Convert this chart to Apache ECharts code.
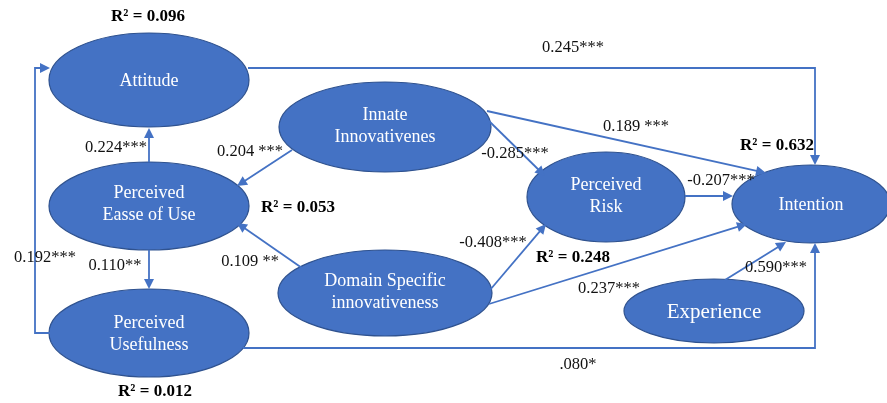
<!DOCTYPE html>
<html><head><meta charset="utf-8">
<script src="https://cdn.jsdelivr.net/npm/echarts@6/dist/echarts.min.js"></script>
<style>html,body{margin:0;padding:0;background:#fff}#c{width:887px;height:403px}</style>
</head><body><div id="c"></div>
<script>
// ---- data ----
const nodeNames = ['Attitude', 'Perceived\nEasse of Use', 'Perceived\nUsefulness', 'Innate\nInnovativenes',
  'Domain Specific\ninnovativeness', 'Perceived\nRisk', 'Intention', 'Experience'];
const pathFrom = ['Attitude', 'Perceived\nUsefulness', 'Perceived\nUsefulness', 'Perceived\nEasse of Use',
  'Perceived\nEasse of Use', 'Innate\nInnovativenes', 'Domain Specific\ninnovativeness', 'Innate\nInnovativenes',
  'Innate\nInnovativenes', 'Perceived\nRisk', 'Domain Specific\ninnovativeness', 'Domain Specific\ninnovativeness', 'Experience'];
const pathTo = ['Intention', 'Attitude', 'Intention', 'Attitude', 'Perceived\nUsefulness', 'Perceived\nEasse of Use',
  'Perceived\nEasse of Use', 'Perceived\nRisk', 'Intention', 'Intention', 'Perceived\nRisk', 'Intention', 'Intention'];
const pathCoefficients = ['0.245***', '0.192***', '.080*', '0.224***', '0.110**', '0.204 ***', '0.109 **',
  '-0.285***', '0.189 ***', '-0.207***', '-0.408***', '0.237***', '0.590***'];
const r2Nodes = ['Attitude', 'Perceived\nEasse of Use', 'Perceived\nUsefulness', 'Perceived\nRisk', 'Intention'];
const r2Values = ['0.096', '0.053', '0.012', '0.248', '0.632'];

// ---- layout (diagram coordinates, on hidden value axes) ----
const nodeX = [149, 149, 149, 385, 385, 606, 811, 714];
const nodeY = [80, 206, 333, 127, 293, 197, 204, 311];
const nodeRX = [100, 100, 100, 106, 107, 79, 79, 90];
const nodeRY = [47, 44, 44, 45, 43, 45, 39, 32];
const nodeFont = [18, 18, 18, 18, 18, 18, 18, 21];
const nodeTextDy = [0, -3, 0, -2, -2, -2, 0, 0];
const edgeRoute = [
  [[248, 68], [815, 68], [815, 165]],
  [[50, 333], [35, 333], [35, 68], [50, 68]],
  [[243, 348], [815, 348], [815, 243]],
  [[149, 162], [149, 128]],
  [[149, 250], [149, 289]],
  [[292, 150], [237, 186]],
  [[302, 268], [237, 223]],
  [[489, 121], [545, 176]],
  [[487, 111], [766, 173]],
  [[685, 196], [733, 196]],
  [[490, 290], [546, 224]],
  [[489, 304], [747, 224]],
  [[725, 280], [786, 242]]
];
const coefPos = [[573, 48], [45, 258], [578, 365], [116, 148], [115, 266], [250, 152], [250, 262],
  [515, 154], [636, 127], [721, 181], [493, 243], [609, 289], [776, 268]];
const r2Pos = [[148, 17], [298, 208], [155, 392], [573, 258], [777, 146]];

const BLUE = '#4472C4', EDGE = '#2F528F', SERIF = '"Liberation Serif","Times New Roman",serif';

const chart = echarts.init(document.getElementById('c'), null, {renderer: 'canvas'});

function ellipseItem(params, api) {
  const i = params.dataIndex;
  const c = api.coord([nodeX[i], nodeY[i]]);
  const s = api.size([nodeRX[i], nodeRY[i]]);
  return {
    type: 'group',
    children: [
      {type: 'ellipse', shape: {cx: c[0], cy: c[1], rx: s[0], ry: s[1]},
        style: {fill: BLUE, stroke: EDGE, lineWidth: 1.2}},
      {type: 'text', x: c[0], y: c[1] + 1 + nodeTextDy[i], style: {text: nodeNames[i], fill: '#fff', align: 'center',
        verticalAlign: 'middle', font: nodeFont[i] + 'px ' + SERIF, lineHeight: nodeFont[i] + 4}}
    ]
  };
}

function edgeItem(params, api) {
  const i = params.dataIndex;
  const pts = edgeRoute[i].map(p => api.coord(p));
  const a = pts[pts.length - 2], b = pts[pts.length - 1];
  const dx = b[0] - a[0], dy = b[1] - a[1], L = Math.hypot(dx, dy);
  const ux = dx / L, uy = dy / L, len = 10, w = 5;
  const bx = b[0] - ux * len, by = b[1] - uy * len;
  const lineEnd = [b[0] - ux * 5, b[1] - uy * 5];
  const linePts = pts.slice(0, -1).concat([lineEnd]);
  return {
    type: 'group',
    children: [
      {type: 'polyline', shape: {points: linePts}, style: {stroke: BLUE, lineWidth: 1.8, fill: null}},
      {type: 'polygon', shape: {points: [b, [bx - uy * w, by + ux * w], [bx + uy * w, by - ux * w]]},
        style: {fill: BLUE}}
    ]
  };
}

function coefItem(params, api) {
  const i = params.dataIndex;
  const c = api.coord(coefPos[i]);
  return {type: 'text', x: c[0], y: c[1], style: {text: pathCoefficients[i], fill: '#111',
    align: 'center', verticalAlign: 'middle', font: '16.5px ' + SERIF}};
}

function r2Item(params, api) {
  const i = params.dataIndex;
  const c = api.coord(r2Pos[i]);
  return {type: 'text', x: c[0], y: c[1], style: {text: 'R² = ' + r2Values[i], fill: '#000',
    align: 'center', verticalAlign: 'middle', font: 'bold 17px ' + SERIF}};
}

chart.setOption({
  animation: false,
  grid: {left: 0, right: 0, top: 0, bottom: 0},
  xAxis: {type: 'value', min: 0, max: 887, show: false},
  yAxis: {type: 'value', min: 0, max: 403, inverse: true, show: false},
  series: [
    {type: 'custom', z: 3, renderItem: edgeItem, data: pathFrom.map((f, i) => [i, pathTo[i]])},
    {type: 'custom', z: 2, renderItem: ellipseItem, data: nodeNames.map((n, i) => [i, n])},
    {type: 'custom', z: 4, renderItem: coefItem, data: pathCoefficients.map((v, i) => [i, v])},
    {type: 'custom', z: 4, renderItem: r2Item, data: r2Values.map((v, i) => [i, r2Nodes[i]])}
  ]
});
</script></body></html>
